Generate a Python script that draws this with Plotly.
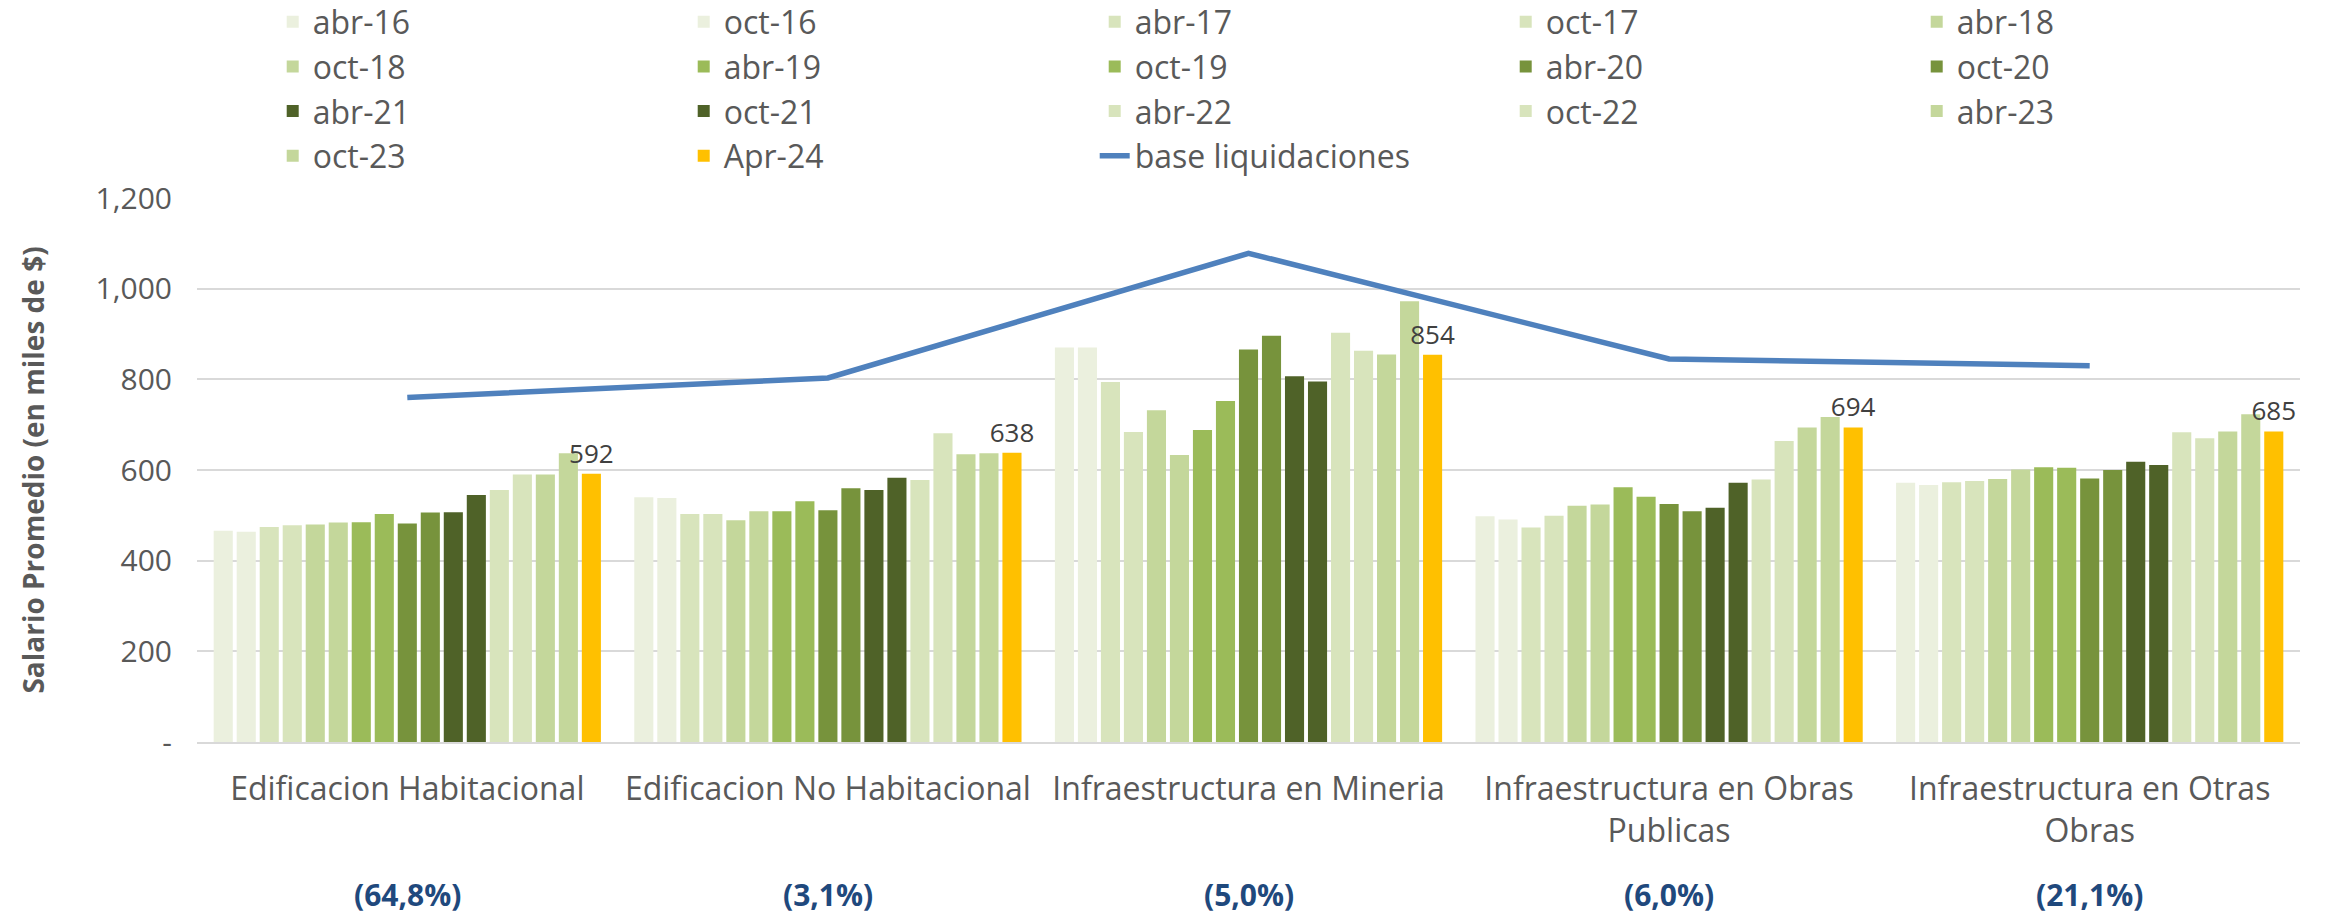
import plotly.graph_objects as go

categories = [
    'Edificacion Habitacional',
    'Edificacion No Habitacional',
    'Infraestructura en Mineria',
    'Infraestructura en Obras<br>Publicas',
    'Infraestructura en Otras<br>Obras',
]
shares = ['(64,8%)', '(3,1%)', '(5,0%)', '(6,0%)', '(21,1%)']

periods = ['abr-16', 'oct-16', 'abr-17', 'oct-17', 'abr-18', 'oct-18', 'abr-19', 'oct-19',
           'abr-20', 'oct-20', 'abr-21', 'oct-21', 'abr-22', 'oct-22', 'abr-23', 'oct-23', 'Apr-24']
period_colors = ['#EBF0DE', '#EBF0DE', '#D8E4BC', '#D8E4BC', '#C4D79B', '#C4D79B',
                 '#9BBB59', '#9BBB59', '#77933C', '#77933C', '#4F6228', '#4F6228',
                 '#D8E4BC', '#D8E4BC', '#C4D79B', '#C4D79B', '#FFC000']

# salario promedio por periodo, una lista por categoria
edif_hab = [466, 464, 474, 478, 480, 484, 485, 503, 482, 506, 507, 545, 556, 590, 590, 637, 592]
edif_no_hab = [540, 538, 503, 503, 489, 509, 509, 531, 511, 560, 556, 583, 578, 681, 635, 637, 638]
mineria = [870, 870, 794, 684, 732, 633, 688, 752, 866, 896, 807, 795, 903, 863, 855, 972, 854]
obras_publicas = [498, 491, 473, 499, 521, 524, 562, 541, 525, 509, 517, 572, 579, 664, 694, 717, 694]
otras_obras = [572, 567, 573, 576, 580, 601, 606, 605, 581, 600, 618, 611, 683, 670, 685, 723, 685]

base_liquidaciones = [760, 803, 1078, 845, 830]

y_tickvals = [0, 200, 400, 600, 800, 1000, 1200]
y_ticktext = ['-', '200', '400', '600', '800', '1,000', '1,200']

_FONT = 'Open Sans'
_GREY = '#595959'

by_category = [edif_hab, edif_no_hab, mineria, obras_publicas, otras_obras]

fig = go.Figure()
for i, (name, color) in enumerate(zip(periods, period_colors)):
    vals = [cat[i] for cat in by_category]
    last = name == 'Apr-24'
    fig.add_trace(go.Bar(
        name=name, x=categories, y=vals,
        marker=dict(color=color, line=dict(width=0)),
        text=vals if last else None,
        texttemplate='%{y:.0f}' if last else None,
        textposition='outside' if last else 'none',
        textfont=dict(family=_FONT, size=26, color='#404040'),
        constraintext='none', cliponaxis=False,
    ))

fig.add_trace(go.Scatter(
    name='base liquidaciones', x=categories, y=base_liquidaciones,
    mode='lines', line=dict(color='#4F81BD', width=5.5),
))

for cat, share in zip(categories, shares):
    fig.add_annotation(
        text=f'<b>{share}</b>', x=cat, xref='x', y=-0.281, yref='paper',
        showarrow=False, yanchor='middle',
        font=dict(family=_FONT, size=30, color='#1F497D'),
    )

fig.update_layout(
    width=2326, height=917,
    paper_bgcolor='white', plot_bgcolor='white',
    barmode='group', bargap=0.07, bargroupgap=0.17,
    margin=dict(l=197, r=26, t=198, b=175, autoexpand=False),
    font=dict(family=_FONT, color=_GREY),
    legend=dict(
        orientation='h', xref='paper', yref='paper',
        x=0.036, y=1.374, xanchor='left', yanchor='top',
        font=dict(family=_FONT, size=32, color=_GREY),
        entrywidth=366, entrywidthmode='pixels',
        traceorder='normal', bgcolor='rgba(0,0,0,0)',
    ),
)
fig.update_xaxes(
    tickfont=dict(family=_FONT, size=32, color=_GREY),
    showline=True, linecolor='#D9D9D9', linewidth=2,
    ticks='', ticklabelstandoff=18,
)
fig.update_yaxes(
    range=[0, 1200], tickvals=y_tickvals, ticktext=y_ticktext,
    tickfont=dict(family=_FONT, size=30, color=_GREY),
    gridcolor='#D9D9D9', gridwidth=2, zeroline=False,
    ticks='', ticklabelstandoff=24,
    title=dict(text='<b>Salario Promedio (en miles de $)</b>',
               font=dict(family=_FONT, size=28, color=_GREY), standoff=42),
)

# la pagina trae margen de 8px en el body; se quita para que calce con la ventana
fig.write_html('out.html', config={'displayModeBar': False},
               post_script="document.body.style.margin='0';")
